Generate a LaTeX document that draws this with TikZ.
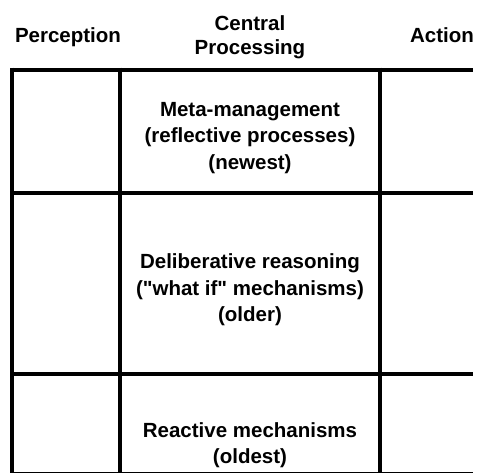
\documentclass[tikz,border=0pt]{standalone}
\usepackage{fontspec}
\setmainfont{Liberation Sans}
\begin{document}
\begin{tikzpicture}[x=1pt, y=-1pt, line width=4pt,
    every node/.style={font=\bfseries\fontsize{20.5}{26.5}\selectfont, align=center, inner sep=0pt}]
  \useasboundingbox (0,0) rectangle (477,472);
  \clip (0,0) rectangle (477,472);

  % Draw the column headings
  \node[anchor=base] (perception) at (68, 42) {Perception};
  \node[font=\bfseries\fontsize{20.5}{23.5}\selectfont] (central) at (250, 37) {Central\\Processing};
  \node[anchor=base] (action) at (442, 42.5) {Action};

  % Draw the horizontal lines of the grid
  \draw[-] (11.5, 69.5) -- (473, 69.5);
  \draw[-] (11.5, 192.5) -- (473, 192.5);
  \draw[-] (11.5, 374) -- (473, 374);
  \draw[-] (11.5, 473.5) -- (473, 473.5);

  % Draw the vertical lines of the grid
  \draw[-] (11.5, 67.5) -- (11.5, 475);
  \draw[-] (120, 67.5) -- (120, 475);
  \draw[-] (380, 67.5) -- (380, 475);

  % Draw the layers of central processing
  \node (meta) at (250, 138) {Meta-management\\(reflective processes)\\(newest)};
  \node (delib) at (250, 290) {Deliberative reasoning\\(\textquotedbl what if\textquotedbl\ mechanisms)\\(older)};
  \node (react) at (250, 445) {Reactive mechanisms\\(oldest)};
\end{tikzpicture}
\end{document}
